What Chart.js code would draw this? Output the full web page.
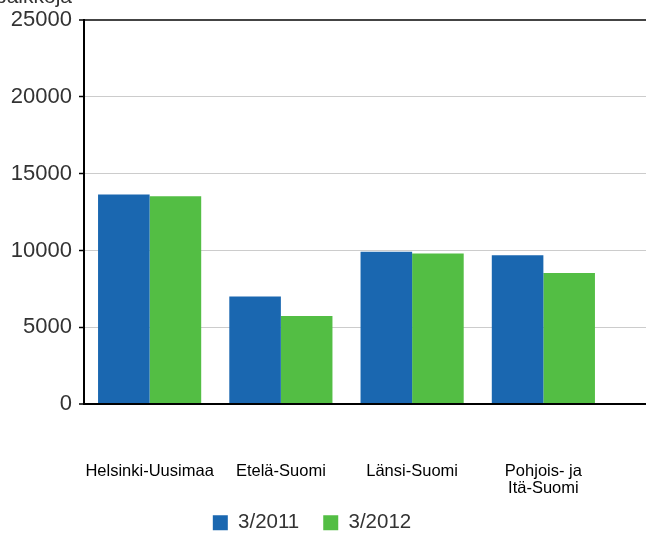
<!DOCTYPE html>
<html lang="fi">
<head>
    <meta charset="UTF-8">
    <title>Avoimet työpaikat</title>
    <script src="https://cdn.jsdelivr.net/npm/chart.js"></script>
    <style>
        html, body { margin: 0; padding: 0; overflow: hidden; background: #fff; }
        #wrap { width: 646px; height: 543px; }
    </style>
</head>
<body>
    <div id="wrap">
        <canvas id="myChart"></canvas>
    </div>
    <script>
        // data
        const regions = ['Helsinki-Uusimaa', 'Etelä-Suomi', 'Länsi-Suomi', ['Pohjois- ja', 'Itä-Suomi']];
        const march2011 = [13650, 7000, 9910, 9690];
        const march2012 = [13540, 5740, 9800, 8530];
        const seriesNames = ['3/2011', '3/2012'];
        const unitLabel = 'paikkoja';

        const ctx = document.getElementById('myChart').getContext('2d');
        const FONT = 'Liberation Sans, Arial, sans-serif';

        const gridColor = v => v === 25000 ? '#444' : (v === 0 ? '#000' : '#cccccc');
        const gridWidth = v => (v === 25000 || v === 0) ? 2 : 1;

        // unit label above the y axis (cut off at the top like the original)
        const unitPlugin = {
            id: 'unitLabel',
            afterDraw(chart) {
                const c = chart.ctx;
                c.save();
                c.font = '21px ' + FONT;
                c.fillStyle = '#333';
                c.textAlign = 'right';
                c.textBaseline = 'alphabetic';
                c.fillText(unitLabel, chart.chartArea.left - 12, 3);
                c.restore();
            }
        };

        // horizontal grid lines run on past the last bar group to the edge
        const gridExtend = {
            id: 'gridExtend',
            afterLayout(chart) {
                // let tick labels spill into the layout padding instead of being clipped
                chart.scales.x.bottom = chart.height;
                chart.scales.y.left = 0;
            },
            beforeDatasetsDraw(chart) {
                const y = chart.scales.y;
                const c = chart.ctx;
                c.save();
                y.ticks.forEach(t => {
                    const w = gridWidth(t.value);
                    const py = Math.round(y.getPixelForValue(t.value) - w / 2) + w / 2;
                    c.beginPath();
                    c.strokeStyle = gridColor(t.value);
                    c.lineWidth = w;
                    c.moveTo(chart.chartArea.right - 1, py);
                    c.lineTo(chart.width, py);
                    c.stroke();
                });
                c.restore();
            }
        };

        const data = {
            labels: regions,
            datasets: [{
                label: seriesNames[0],
                data: march2011,
                backgroundColor: '#1a67b0'
            }, {
                label: seriesNames[1],
                data: march2012,
                backgroundColor: '#53be44'
            }]
        };

        const config = {
            type: 'bar',
            data: data,
            options: {
                responsive: true,
                maintainAspectRatio: false,
                animation: false,
                datasets: {
                    bar: { categoryPercentage: 0.786, barPercentage: 1.0 }
                },
                layout: { padding: { top: 18, right: 37, left: 15, bottom: 0 } },
                plugins: {
                    tooltip: { enabled: false },
                    legend: {
                        position: 'bottom',
                        labels: {
                            boxWidth: 15,
                            boxHeight: 15,
                            padding: 24,
                            color: '#333',
                            font: { family: FONT, size: 20.5 }
                        }
                    }
                },
                scales: {
                    x: {
                        grid: { display: false, drawTicks: false },
                        border: { display: true, color: '#000', width: 2 },
                        ticks: {
                            padding: 59,
                            color: '#000',
                            maxRotation: 0,
                            autoSkip: false,
                            font: { family: FONT, size: 16.5, lineHeight: 1.03 }
                        },
                        afterFit(scale) { scale.height = 84.5; }
                    },
                    y: {
                        min: 0,
                        max: 25000,
                        ticks: {
                            stepSize: 5000,
                            padding: 7,
                            color: '#333',
                            font: { family: FONT, size: 22 },
                            callback: v => String(v)
                        },
                        grid: {
                            color: c => gridColor(c.tick.value),
                            lineWidth: c => gridWidth(c.tick.value),
                            tickLength: 5,
                            tickColor: '#000',
                            tickWidth: 1.5
                        },
                        border: { display: true, color: '#000', width: 2 },
                        afterFit(scale) { scale.width = 69; }
                    }
                }
            },
            plugins: [unitPlugin, gridExtend]
        };

        const myChart = new Chart(ctx, config);
    </script>
</body>
</html>
